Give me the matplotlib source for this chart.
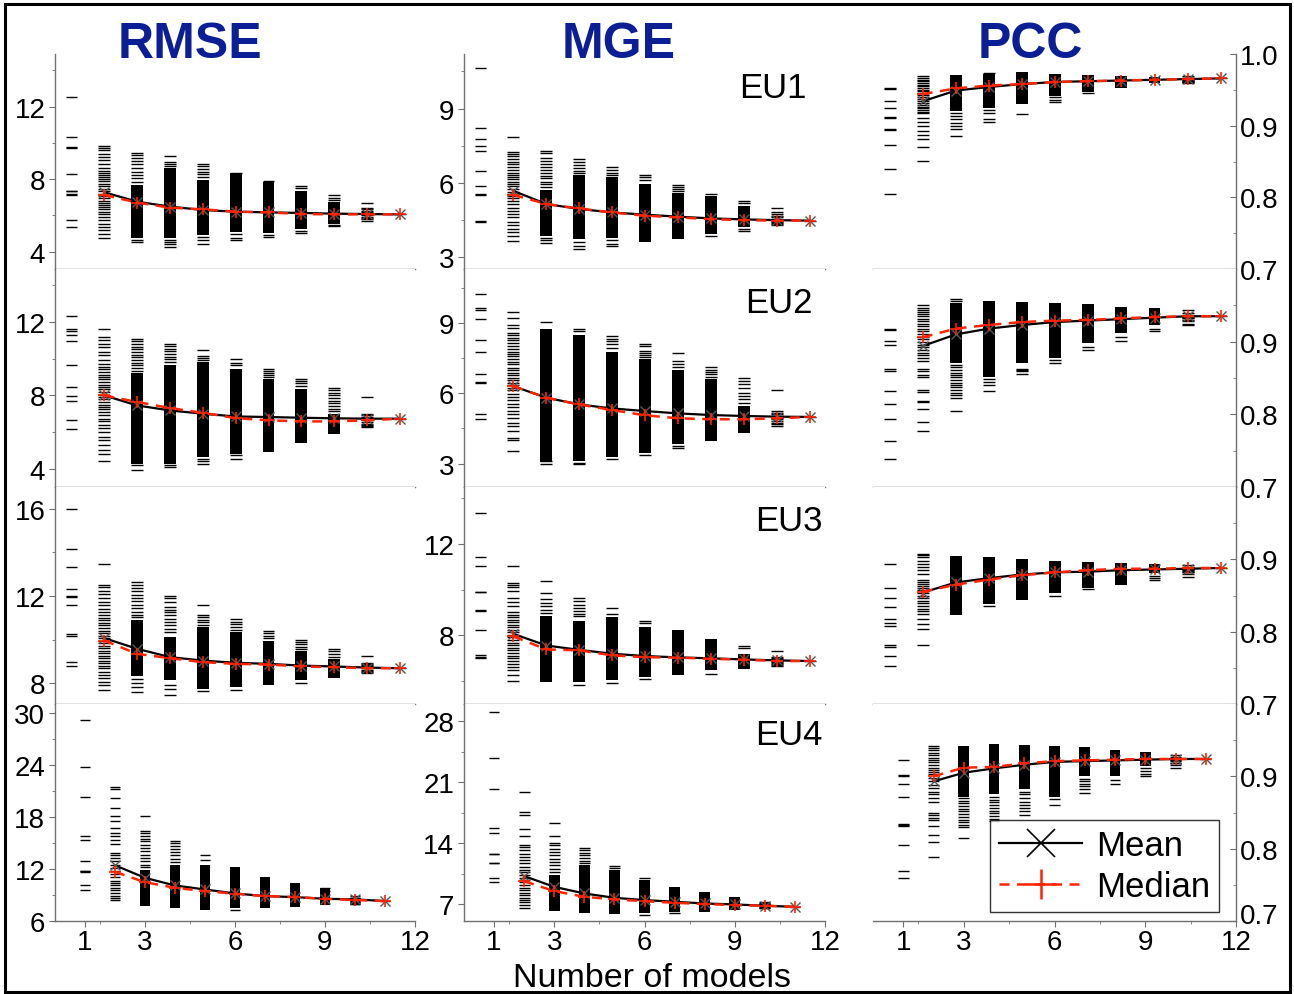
import numpy as np
import matplotlib.pyplot as plt
import matplotlib.transforms as mtransforms
from matplotlib.lines import Line2D
from matplotlib.patches import Rectangle
from matplotlib.ticker import FormatStrFormatter

plt.rcParams['font.family'] = ['Liberation Sans', 'DejaVu Sans']

# number of models in the ensemble; mean/median curves start at 2 models
n_models = np.arange(1, 12)
n_ensemble = np.arange(2, 12)

metrics = ['RMSE', 'MGE', 'PCC']
regions = ['EU1', 'EU2', 'EU3', 'EU4']

# each *_dash: per ensemble size, the individual scores that stand apart
# each *_bar:  per ensemble size, the range where the scores pile into a solid column

# ---------------- EU1 ----------------
rmse_eu1_dash = [
    [12.55, 10.31, 9.76, 9.74, 8.27, 7.37, 7.33, 7.17, 7.15, 5.75, 5.38],
    [9.85, 9.74, 9.59, 9.41, 9.22, 9.04, 8.86, 8.64, 8.45, 8.34, 8.23, 8.12, 8.01, 7.90, 7.75, 7.61,
     7.46, 7.35, 7.20, 7.06, 6.94, 6.80, 6.69, 6.58, 6.47, 6.36, 6.21, 6.06, 5.92, 5.73, 5.55, 5.36,
     5.18, 4.96, 4.74],
    [9.46, 9.33, 9.19, 9.00, 8.82, 8.64, 8.42, 8.23, 8.05, 7.86, 4.65, 4.52],
    [9.30, 8.93, 8.82, 8.71, 4.65, 4.52, 4.41, 4.28],
    [8.86, 8.71, 8.56, 8.42, 8.27, 8.12, 4.81, 4.63, 4.44],
    [8.36, 4.96, 4.78, 4.63],
    [7.92, 4.92, 4.83],
    [7.63, 7.50, 5.14, 5.05],
    [7.13, 6.94, 6.83, 5.47, 5.42],
    [6.71, 6.39, 6.34, 6.25, 6.17, 6.08, 6.03, 5.93, 5.84, 5.79, 5.71],
    [6.06],
]
rmse_eu1_bar = [None, None, (4.78, 7.68), (4.74, 8.60), (4.92, 7.96), (5.07, 8.32),
                (5.01, 7.83), (5.25, 7.37), (5.55, 6.72), None, None]
rmse_eu1_mean = [7.28, 6.76, 6.49, 6.30, 6.21, 6.17, 6.14, 6.10, 6.08, 6.06]
rmse_eu1_med = [7.13, 6.71, 6.43, 6.34, 6.21, 6.17, 6.08, 6.06, 6.06, 6.06]

mge_eu1_dash = [
    [10.62, 8.21, 7.79, 7.50, 7.27, 6.49, 5.89, 5.54, 5.51, 4.48, 4.41],
    [7.86, 7.23, 7.16, 7.07, 6.96, 6.85, 6.76, 6.66, 6.53, 6.42, 6.34, 6.26, 6.15, 6.05, 5.95, 5.86,
     5.75, 5.64, 5.55, 5.46, 5.38, 5.27, 5.15, 5.01, 4.88, 4.74, 4.61, 4.44, 4.30, 4.14, 4.03, 3.87,
     3.67],
    [7.30, 7.20, 6.99, 6.88, 6.77, 6.66, 6.53, 6.42, 6.29, 6.18, 6.05, 5.94, 5.83, 3.79, 3.68, 3.58],
    [6.96, 6.85, 6.73, 6.62, 6.49, 6.40, 3.63, 3.44, 3.34],
    [6.66, 6.53, 6.42, 6.32, 3.68, 3.55, 3.44],
    [6.32, 6.23, 6.10],
    [5.91, 5.85, 5.75, 5.67],
    [5.55, 3.87],
    [5.28, 5.19, 4.14, 4.07],
    [5.01, 4.84, 4.74, 4.68, 4.61, 4.54, 4.48, 4.44, 4.38, 4.34, 4.30],
    [4.48],
]
mge_eu1_bar = [None, None, (3.87, 5.72), (3.74, 6.32), (3.77, 6.23), (3.60, 5.95),
               (3.74, 5.59), (3.94, 5.48), (4.21, 5.08), None, None]
mge_eu1_mean = [5.68, 5.15, 4.95, 4.81, 4.72, 4.64, 4.57, 4.53, 4.50, 4.48]
mge_eu1_med = [5.52, 5.15, 4.97, 4.81, 4.68, 4.61, 4.54, 4.50, 4.48, 4.48]

pcc_eu1_dash = [
    [0.952, 0.951, 0.935, 0.925, 0.912, 0.911, 0.896, 0.894, 0.873, 0.840, 0.804],
    [0.969, 0.966, 0.964, 0.962, 0.959, 0.957, 0.955, 0.952, 0.950, 0.948, 0.946, 0.943, 0.940,
     0.937, 0.934, 0.932, 0.929, 0.926, 0.924, 0.922, 0.919, 0.917, 0.911, 0.905, 0.899, 0.892,
     0.887, 0.882, 0.870, 0.851],
    [0.918, 0.913, 0.909, 0.904, 0.900, 0.896, 0.886],
    [0.974, 0.922, 0.917, 0.910, 0.905],
    [0.916],
    [0.940, 0.936, 0.933],
    [0.945],
    [],
    [],
    [0.969, 0.967, 0.966, 0.965, 0.965, 0.964, 0.963, 0.962, 0.961, 0.961, 0.960],
    [0.966],
]
pcc_eu1_bar = [None, None, (0.921, 0.971), (0.924, 0.972), (0.930, 0.975), (0.942, 0.972),
               (0.947, 0.971), (0.953, 0.970), (0.959, 0.968), None, None]
pcc_eu1_mean = [0.934, 0.949, 0.954, 0.958, 0.961, 0.962, 0.963, 0.964, 0.965, 0.966]
pcc_eu1_med = [0.944, 0.952, 0.956, 0.958, 0.961, 0.962, 0.963, 0.964, 0.965, 0.966]

# ---------------- EU2 ----------------
rmse_eu2_dash = [
    [12.31, 11.64, 11.49, 11.27, 10.96, 9.64, 8.45, 7.96, 7.67, 6.67, 6.18],
    [11.64, 11.18, 11.00, 10.82, 10.64, 10.36, 10.18, 9.91, 9.73, 9.55, 9.42, 9.27, 9.13, 9.00,
     8.87, 8.73, 8.58, 8.45, 8.33, 8.18, 8.04, 7.91, 7.78, 7.64, 7.49, 7.36, 7.24, 7.09, 6.91, 6.73,
     6.58, 6.40, 6.22, 6.00, 5.73, 5.55, 5.27, 5.04, 4.82, 4.40],
    [11.09, 10.95, 10.80, 10.65, 10.51, 10.36, 10.22, 10.07, 9.93, 9.78, 9.64, 9.49, 9.35, 4.18, 3.91],
    [10.82, 10.69, 10.55, 10.40, 10.25, 10.11, 9.96, 9.82, 4.18, 4.09],
    [10.49, 10.15, 10.04, 9.93, 4.51, 4.40, 4.27],
    [9.96, 9.78, 9.64, 4.73, 4.51],
    [9.42, 9.31, 9.20, 9.09, 8.98],
    [8.91, 8.78, 8.65, 8.53],
    [8.42, 8.29, 8.15, 8.00, 7.85, 7.71, 7.56, 7.42, 7.27, 7.13],
    [7.91, 7.00, 6.91, 6.82, 6.73, 6.64, 6.55, 6.45, 6.40, 6.33, 6.27],
    [6.73],
]
rmse_eu2_bar = [None, None, (4.27, 9.24), (4.27, 9.67), (4.64, 9.85), (4.82, 9.45),
                (4.91, 8.91), (5.42, 8.36), (5.91, 7.00), None, None]
rmse_eu2_mean = [8.00, 7.45, 7.18, 7.00, 6.85, 6.82, 6.78, 6.75, 6.73, 6.73]
rmse_eu2_med = [8.00, 7.64, 7.31, 7.05, 6.76, 6.64, 6.58, 6.58, 6.64, 6.73]

mge_eu2_dash = [
    [10.23, 9.64, 9.57, 9.18, 8.25, 7.77, 6.83, 6.49, 6.45, 5.10, 4.89],
    [9.45, 9.21, 8.93, 8.79, 8.57, 8.48, 8.36, 8.25, 8.15, 8.01, 7.87, 7.77, 7.68, 7.58, 7.48, 7.34,
     7.23, 7.09, 6.97, 6.87, 6.77, 6.66, 6.55, 6.45, 6.35, 6.23, 6.12, 5.98, 5.84, 5.70, 5.55, 5.41,
     5.24, 5.10, 4.93, 4.74, 4.60, 4.39, 4.08, 3.99, 3.54],
    [9.04, 3.11, 3.00],
    [8.72, 8.65, 3.04, 3.00],
    [8.46, 8.33, 8.22, 8.08, 7.94, 3.18],
    [8.11, 8.01, 7.82, 7.72, 7.62, 7.54, 3.37],
    [7.72, 7.37, 7.26, 7.14, 3.75, 3.65],
    [7.11, 7.01, 6.91, 6.80, 6.70],
    [6.66, 6.52, 6.38, 6.21, 6.02, 5.88, 5.74, 5.60],
    [6.13, 5.24, 5.17, 5.10, 5.03, 4.96, 4.89, 4.82, 4.74, 4.67, 4.60],
    [4.99],
]
mge_eu2_bar = [None, None, (3.05, 8.75), (3.11, 8.50), (3.26, 7.77), (3.47, 7.44),
               (3.82, 7.01), (3.96, 6.59), (4.32, 5.45), None, None]
mge_eu2_mean = [6.30, 5.81, 5.52, 5.35, 5.24, 5.14, 5.07, 5.03, 5.00, 4.99]
mge_eu2_med = [6.30, 5.81, 5.52, 5.28, 5.06, 4.93, 4.89, 4.89, 4.93, 4.99]

pcc_eu2_dash = [
    [0.918, 0.916, 0.901, 0.895, 0.862, 0.860, 0.832, 0.814, 0.794, 0.763, 0.739],
    [0.951, 0.947, 0.944, 0.941, 0.938, 0.935, 0.931, 0.928, 0.924, 0.921, 0.917, 0.914, 0.911,
     0.907, 0.903, 0.900, 0.896, 0.892, 0.888, 0.885, 0.881, 0.877, 0.874, 0.862, 0.859, 0.854,
     0.852, 0.834, 0.831, 0.819, 0.817, 0.807, 0.790, 0.777],
    [0.959, 0.956, 0.868, 0.865, 0.861, 0.857, 0.854, 0.851, 0.847, 0.843, 0.840, 0.837, 0.833,
     0.829, 0.826, 0.823, 0.805],
    [0.849, 0.845, 0.840, 0.832],
    [0.863, 0.861, 0.859, 0.855],
    [0.875, 0.871],
    [0.893, 0.888],
    [0.907, 0.901],
    [0.918, 0.914],
    [0.944, 0.939, 0.937, 0.935, 0.934, 0.933, 0.932, 0.930, 0.928, 0.925, 0.923],
    [0.935],
]
pcc_eu2_bar = [None, None, (0.870, 0.953), (0.852, 0.956), (0.870, 0.955), (0.877, 0.953),
               (0.898, 0.952), (0.912, 0.948), (0.923, 0.947), None, None]
pcc_eu2_mean = [0.894, 0.910, 0.918, 0.923, 0.927, 0.929, 0.931, 0.933, 0.935, 0.935]
pcc_eu2_med = [0.906, 0.918, 0.923, 0.927, 0.929, 0.930, 0.932, 0.934, 0.935, 0.935]

# ---------------- EU3 ----------------
rmse_eu3_dash = [
    [16.00, 14.17, 13.35, 12.33, 11.99, 11.97, 11.57, 10.24, 10.16, 8.97, 8.81],
    [13.45, 12.51, 12.41, 12.25, 12.10, 11.90, 11.72, 11.57, 11.41, 11.26, 11.11, 10.98, 10.88,
     10.77, 10.65, 10.53, 10.42, 10.31, 10.19, 10.07, 9.96, 9.85, 9.73, 9.61, 9.50, 9.39, 9.27,
     9.15, 9.04, 8.94, 8.81, 8.69, 8.54, 8.39, 8.23, 8.05, 7.90, 7.70],
    [12.64, 12.51, 12.36, 12.21, 12.06, 11.90, 11.75, 11.60, 11.44, 11.29, 11.14, 11.02,
     8.20, 8.02, 7.82, 7.59],
    [12.02, 11.90, 11.72, 11.49, 11.38, 11.26, 11.11, 10.95, 10.80, 10.65, 10.50, 10.34,
     7.93, 7.74, 7.47],
    [11.61, 11.14, 11.03, 10.92, 10.80, 10.68, 7.64],
    [10.95, 10.83, 10.71, 10.59, 10.46, 7.71],
    [10.42, 10.31, 10.19, 10.07],
    [9.99, 9.88, 9.78, 9.67, 9.56, 8.02],
    [9.58, 9.46, 9.32, 9.20],
    [9.23, 8.94, 8.89, 8.84, 8.78, 8.74, 8.69, 8.63, 8.58, 8.51, 8.46],
    [8.69],
]
rmse_eu3_bar = [None, None, (8.35, 10.88), (8.13, 10.11), (7.74, 10.57), (7.82, 10.34),
                (7.90, 9.96), (8.13, 9.46), (8.23, 9.12), None, None]
rmse_eu3_mean = [10.07, 9.58, 9.20, 9.04, 8.94, 8.89, 8.81, 8.77, 8.72, 8.69]
rmse_eu3_med = [9.96, 9.35, 9.15, 8.97, 8.89, 8.86, 8.77, 8.74, 8.69, 8.69]

mge_eu3_dash = [
    [13.34, 11.45, 11.05, 9.92, 9.90, 9.12, 9.09, 8.22, 7.13, 7.05, 7.00],
    [11.05, 10.28, 10.23, 10.11, 9.93, 9.64, 9.45, 9.31, 9.02, 8.90, 8.80, 8.68, 8.58, 8.48, 8.36,
     8.25, 8.15, 8.04, 7.93, 7.81, 7.69, 7.58, 7.46, 7.35, 7.23, 7.11, 7.00, 6.88, 6.76, 6.62,
     6.47, 6.25, 6.01],
    [10.40, 9.85, 9.60, 9.41, 9.27, 9.12, 8.99],
    [9.64, 9.50, 9.35, 9.21, 9.09, 8.95, 8.84, 5.83],
    [9.19, 8.95, 5.93],
    [8.65, 8.54, 6.09],
    [],
    [6.33],
    [7.56, 7.46],
    [7.30, 7.05, 7.01, 6.97, 6.92, 6.88, 6.84, 6.79, 6.75, 6.71, 6.68],
    [6.88],
]
mge_eu3_bar = [None, None, (5.96, 8.87), (5.96, 8.65), (6.04, 8.80), (6.18, 8.36),
               (6.25, 8.22), (6.47, 7.85), (6.55, 7.20), None, None]
mge_eu3_mean = [8.07, 7.56, 7.37, 7.20, 7.10, 7.04, 7.00, 6.95, 6.91, 6.88]
mge_eu3_med = [7.96, 7.39, 7.35, 7.13, 7.05, 7.03, 6.98, 6.94, 6.88, 6.88]

pcc_eu3_dash = [
    [0.894, 0.861, 0.847, 0.834, 0.818, 0.812, 0.808, 0.782, 0.779, 0.766, 0.753],
    [0.908, 0.906, 0.903, 0.898, 0.894, 0.890, 0.885, 0.880, 0.871, 0.869, 0.866, 0.863, 0.860,
     0.857, 0.853, 0.849, 0.846, 0.843, 0.839, 0.835, 0.832, 0.829, 0.824, 0.818, 0.811, 0.804,
     0.782],
    [],
    [0.835],
    [],
    [0.850],
    [0.859],
    [],
    [0.877, 0.874, 0.871],
    [0.892, 0.890, 0.888, 0.887, 0.886, 0.885, 0.884, 0.883, 0.882, 0.880, 0.876],
    [0.888],
]
pcc_eu3_bar = [None, None, (0.823, 0.905), (0.838, 0.903), (0.844, 0.900), (0.853, 0.898),
               (0.860, 0.897), (0.865, 0.895), (0.881, 0.894), None, None]
pcc_eu3_mean = [0.854, 0.868, 0.874, 0.879, 0.882, 0.883, 0.885, 0.886, 0.887, 0.888]
pcc_eu3_med = [0.855, 0.865, 0.872, 0.878, 0.882, 0.885, 0.887, 0.887, 0.888, 0.888]

# ---------------- EU4 ----------------
rmse_eu4_dash = [
    [29.12, 23.77, 20.26, 15.75, 15.36, 12.96, 11.81, 11.78, 11.66, 10.09, 9.52],
    [21.48, 21.21, 20.14, 19.00, 18.04, 17.54, 16.70, 16.13, 15.75, 15.36, 14.91, 13.84, 13.57,
     13.26, 12.88, 12.50, 12.12, 11.73, 11.43, 11.05, 10.66, 10.40, 10.13, 9.82, 9.52, 9.21, 8.91,
     8.68, 8.37],
    [18.04, 16.40, 16.09, 15.79, 15.48, 15.17, 14.79, 14.41, 14.03, 13.65, 13.26, 12.88, 12.50, 12.19],
    [15.25, 14.94, 14.64, 14.33, 13.95, 13.57, 13.19, 12.80],
    [13.57, 13.07],
    [7.26],
    [],
    [],
    [9.75, 9.44],
    [8.87, 8.68, 8.60, 8.49, 8.41, 8.30, 8.22, 8.14, 8.07, 7.99, 7.91],
    [8.30],
]
rmse_eu4_bar = [None, None, (7.72, 11.93), (7.45, 12.50), (7.22, 12.50), (7.53, 12.19),
                (7.45, 11.09), (7.61, 10.40), (7.84, 9.75), None, None]
rmse_eu4_mean = [12.42, 10.97, 10.09, 9.63, 9.17, 8.87, 8.75, 8.56, 8.49, 8.30]
rmse_eu4_med = [11.66, 10.47, 9.82, 9.44, 9.14, 8.87, 8.75, 8.56, 8.41, 8.30]

mge_eu4_dash = [
    [29.07, 23.80, 20.29, 15.78, 15.25, 12.84, 12.80, 11.81, 11.70, 10.05, 9.52],
    [19.91, 17.61, 17.31, 15.71, 14.87, 13.87, 13.61, 13.22, 12.84, 12.46, 12.08, 11.70, 11.31,
     10.93, 10.67, 10.36, 10.05, 9.79, 9.52, 9.21, 8.91, 8.64, 8.37, 8.07, 7.76, 7.50, 7.23,
     6.92, 6.62],
    [16.39, 14.87, 14.10, 13.80, 13.41, 13.03, 12.65, 12.27, 11.89, 11.50, 11.12, 10.74],
    [13.49, 13.22, 12.96, 12.65, 12.35, 12.04, 11.73],
    [11.43, 11.20],
    [9.98, 5.78],
    [5.97],
    [],
    [],
    [7.23, 7.15, 7.08, 7.00, 6.96, 6.92, 6.85, 6.77, 6.69, 6.62, 6.54],
    [6.73],
]
mge_eu4_bar = [None, None, (6.24, 10.36), (5.97, 11.50), (5.85, 10.93), (5.97, 9.79),
               (6.16, 9.02), (6.16, 8.45), (6.35, 7.80), None, None]
mge_eu4_mean = [10.25, 9.02, 8.26, 7.76, 7.50, 7.31, 7.11, 7.00, 6.85, 6.73]
mge_eu4_med = [9.67, 8.53, 7.88, 7.57, 7.38, 7.19, 7.04, 6.92, 6.85, 6.73]

pcc_eu4_dash = [
    [0.922, 0.902, 0.900, 0.889, 0.872, 0.834, 0.833, 0.831, 0.805, 0.769, 0.760],
    [0.942, 0.939, 0.936, 0.932, 0.929, 0.925, 0.923, 0.920, 0.916, 0.912, 0.909, 0.906, 0.903,
     0.898, 0.893, 0.888, 0.884, 0.879, 0.875, 0.870, 0.865, 0.849, 0.846, 0.843, 0.840, 0.831,
     0.819, 0.809, 0.788],
    [0.870, 0.866, 0.863, 0.859, 0.855, 0.852, 0.848, 0.844, 0.840, 0.837, 0.833, 0.830, 0.815],
    [0.871, 0.867, 0.864, 0.860, 0.856, 0.852, 0.849, 0.845, 0.841, 0.838],
    [0.879, 0.875, 0.870, 0.865, 0.861, 0.856, 0.852, 0.847],
    [0.868, 0.861],
    [0.897, 0.893, 0.889, 0.886, 0.882, 0.877],
    [0.895, 0.889],
    [0.911, 0.907, 0.903, 0.901],
    [0.929, 0.927, 0.925, 0.924, 0.923, 0.922, 0.921, 0.919, 0.918, 0.915, 0.912],
    [0.924],
]
pcc_eu4_bar = [None, None, (0.872, 0.942), (0.875, 0.945), (0.882, 0.944), (0.871, 0.942),
               (0.900, 0.940), (0.900, 0.936), (0.914, 0.933), None, None]
pcc_eu4_mean = [0.893, 0.905, 0.911, 0.916, 0.920, 0.921, 0.922, 0.923, 0.924, 0.924]
pcc_eu4_med = [0.900, 0.912, 0.913, 0.918, 0.921, 0.922, 0.923, 0.924, 0.924, 0.924]

panels = {
    ('RMSE', 'EU1'): (rmse_eu1_dash, rmse_eu1_bar, rmse_eu1_mean, rmse_eu1_med),
    ('MGE', 'EU1'): (mge_eu1_dash, mge_eu1_bar, mge_eu1_mean, mge_eu1_med),
    ('PCC', 'EU1'): (pcc_eu1_dash, pcc_eu1_bar, pcc_eu1_mean, pcc_eu1_med),
    ('RMSE', 'EU2'): (rmse_eu2_dash, rmse_eu2_bar, rmse_eu2_mean, rmse_eu2_med),
    ('MGE', 'EU2'): (mge_eu2_dash, mge_eu2_bar, mge_eu2_mean, mge_eu2_med),
    ('PCC', 'EU2'): (pcc_eu2_dash, pcc_eu2_bar, pcc_eu2_mean, pcc_eu2_med),
    ('RMSE', 'EU3'): (rmse_eu3_dash, rmse_eu3_bar, rmse_eu3_mean, rmse_eu3_med),
    ('MGE', 'EU3'): (mge_eu3_dash, mge_eu3_bar, mge_eu3_mean, mge_eu3_med),
    ('PCC', 'EU3'): (pcc_eu3_dash, pcc_eu3_bar, pcc_eu3_mean, pcc_eu3_med),
    ('RMSE', 'EU4'): (rmse_eu4_dash, rmse_eu4_bar, rmse_eu4_mean, rmse_eu4_med),
    ('MGE', 'EU4'): (mge_eu4_dash, mge_eu4_bar, mge_eu4_mean, mge_eu4_med),
    ('PCC', 'EU4'): (pcc_eu4_dash, pcc_eu4_bar, pcc_eu4_mean, pcc_eu4_med),
}

# y axis ranges and ticks for each panel
ylims = {
    ('RMSE', 'EU1'): (3.05, 14.9), ('MGE', 'EU1'): (2.53, 11.2),
    ('RMSE', 'EU2'): (3.0, 14.9), ('MGE', 'EU2'): (2.0, 11.3),
    ('RMSE', 'EU3'): (7.05, 17.0), ('MGE', 'EU3'): (5.0, 14.5),
    ('RMSE', 'EU4'): (6.0, 31.0), ('MGE', 'EU4'): (5.1, 30.0),
}
ymajor = {
    ('RMSE', 'EU1'): [4, 8, 12], ('MGE', 'EU1'): [3, 6, 9],
    ('RMSE', 'EU2'): [4, 8, 12], ('MGE', 'EU2'): [3, 6, 9],
    ('RMSE', 'EU3'): [8, 12, 16], ('MGE', 'EU3'): [8, 12],
    ('RMSE', 'EU4'): [6, 12, 18, 24, 30], ('MGE', 'EU4'): [7, 14, 21, 28],
}
yminor = {
    ('RMSE', 'EU1'): [6, 10, 14], ('MGE', 'EU1'): [4.5, 7.5, 10.5],
    ('RMSE', 'EU2'): [6, 10, 14], ('MGE', 'EU2'): [4.5, 7.5, 10.5],
    ('RMSE', 'EU3'): [10, 14], ('MGE', 'EU3'): [6, 10, 14],
    ('RMSE', 'EU4'): [9, 15, 21, 27], ('MGE', 'EU4'): [10.5, 17.5, 24.5],
}
for reg in regions:
    ylims[('PCC', reg)] = (0.7, 1.0)
    ymajor[('PCC', reg)] = [0.7, 0.8, 0.9, 1.0] if reg == 'EU1' else [0.7, 0.8, 0.9]
    yminor[('PCC', reg)] = [0.75, 0.85, 0.95]

W, H = 1294, 995
fig = plt.figure(figsize=(W / 100, H / 100), dpi=100)

col_x = [(55, 415), (464, 825), (873, 1236)]
row_y = [(55, 270), (270, 488), (488, 705), (705, 922)]
eu_pos = [(807, 98), (813, 313), (823, 531), (822, 745)]

RED = '#ff2400'
GREY = '#707070'
HALF = 0.18

axes = {}
for r, reg in enumerate(regions):
    for c, met in enumerate(metrics):
        x0, x1 = col_x[c]
        y0, y1 = row_y[r]
        ax = fig.add_axes([x0 / W, 1 - y1 / H, (x1 - x0) / W, (y1 - y0) / H])
        axes[(met, reg)] = ax
        dash, bar, mean, med = panels[(met, reg)]

        for k, vals in zip(n_models, dash):
            if vals:
                ax.hlines(vals, k - HALF, k + HALF, color='black', lw=1.0, zorder=2)
        for k, rng in zip(n_models, bar):
            if rng is not None:
                ax.bar(k, rng[1] - rng[0], bottom=rng[0], width=2 * HALF,
                       color='black', lw=0, zorder=2)

        ax.plot(n_ensemble, mean, color='black', lw=1.6, marker='x', ms=7,
                mec='#555555', mew=1.0, zorder=3)
        ax.plot(n_ensemble, med, color=RED, lw=1.8, ls=(0, (4, 3)), marker='+', ms=9,
                mec=RED, mew=1.2, zorder=4)

        last = r == 3
        ax.set_xlim((0, 12) if last else (0.5, 11.46))
        ax.set_ylim(*ylims[(met, reg)])

        ax.spines['top'].set_visible(False)
        if c == 2:
            ax.spines['left'].set_visible(False)
            ax.yaxis.tick_right()
            ydir = 'in'
        else:
            ax.spines['right'].set_visible(False)
            ydir = 'out'
        for s in ax.spines.values():
            s.set_color(GREY)
            s.set_linewidth(1.0)

        ax.set_yticks(ymajor[(met, reg)])
        ax.set_yticks(yminor[(met, reg)], minor=True)
        if met == 'PCC':
            ax.yaxis.set_major_formatter(FormatStrFormatter('%.1f'))
        ax.tick_params(axis='y', which='both', direction=ydir, color=GREY,
                       labelsize=20, pad=3)
        ax.tick_params(axis='y', which='major', length=4)
        ax.tick_params(axis='y', which='minor', length=2.5)

        if last:
            ax.set_xticks([1, 3, 6, 9, 12])
            ax.set_xticks([1.5, 4.5, 7.5, 10.5], minor=True)
        elif r == 2:
            ax.set_xticks([3, 6, 9])
            ax.set_xticks([1.5, 4.5, 7.5, 10.5], minor=True)
            ax.set_xticklabels([])
        else:
            ax.set_xticks(n_models)
            ax.set_xticklabels([])
        ax.tick_params(axis='x', which='both', direction='out', color=GREY,
                       labelsize=20, pad=2)
        ax.tick_params(axis='x', which='major', length=4)
        ax.tick_params(axis='x', which='minor', length=2.5)

# lift the lowest PCC label a little so it clears the "12" below it
corner = axes[('PCC', 'EU4')]
fig.canvas.draw()
lift = mtransforms.ScaledTranslation(0, 6 / 72, fig.dpi_scale_trans)
for t in corner.yaxis.get_major_ticks():
    if abs(t.get_loc() - 0.7) < 1e-9:
        t.label2.set_transform(t.label2.get_transform() + lift)

# region names inside the MGE column
for reg, (ex, ey) in zip(regions, eu_pos):
    fig.text(ex / W, 1 - ey / H, reg, ha='right', va='baseline', fontsize=25)

# metric headers
for met, cx in zip(metrics, [190, 619, 1030]):
    fig.text(cx / W, 1 - 58 / H, met, ha='center', va='baseline', fontsize=36,
             fontweight='bold', color='#0c1e96')

fig.text(652 / W, 1 - 987 / H, 'Number of models', ha='center', va='baseline', fontsize=24.5)

handles = [
    Line2D([], [], color='black', lw=1.6, marker='x', ms=20, mew=1.2, mec='black'),
    Line2D([], [], color=RED, lw=1.8, ls=(0, (4, 3)), marker='+', ms=22, mew=1.8, mec=RED),
]
leg = corner.legend(handles, ['Mean', 'Median'], loc='lower right',
                    bbox_to_anchor=(0.953, 0.041), borderaxespad=0,
                    fontsize=25, frameon=True, fancybox=False,
                    handlelength=2.4, handletextpad=0.4,
                    labelspacing=0.25, borderpad=0.25)
leg.get_frame().set_edgecolor('black')
leg.get_frame().set_linewidth(1.0)
leg.set_zorder(10)

fig.add_artist(Rectangle((4.7 / W, 1 - 993 / H), 1284.8 / W, 988 / H,
                         transform=fig.transFigure, fill=False, ec='black', lw=2.2))

fig.savefig('out.png', dpi=100)
